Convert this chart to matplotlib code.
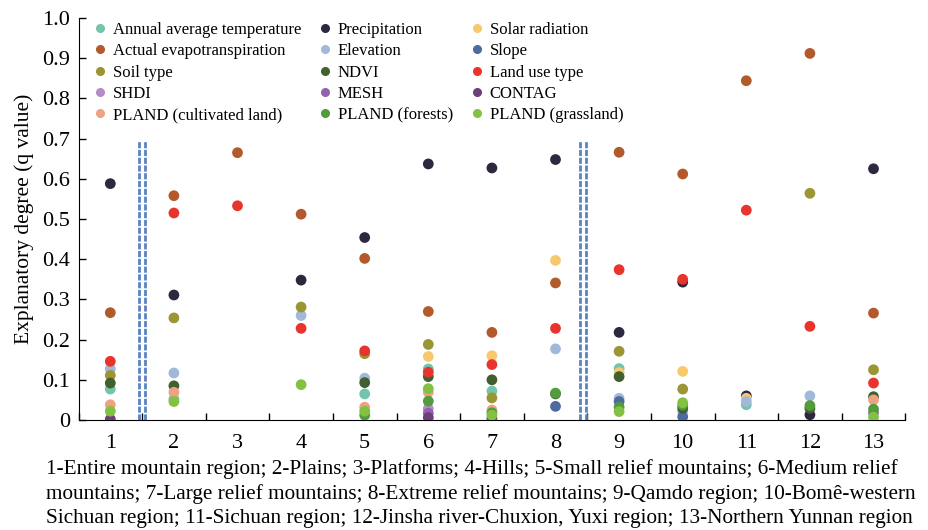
import numpy as np
import matplotlib
matplotlib.use("Agg")
import matplotlib.pyplot as plt
from matplotlib.lines import Line2D

plt.rcParams['font.family'] = ['Liberation Serif', 'DejaVu Serif']

nan = np.nan

regions = list(range(1, 14))
region_labels = [str(r) for r in regions]

factors = ["Annual average temperature", "Precipitation", "Solar radiation",
           "Actual evapotranspiration", "Elevation", "Slope",
           "Soil type", "NDVI", "Land use type",
           "SHDI", "MESH", "CONTAG",
           "PLAND (cultivated land)", "PLAND (forests)", "PLAND (grassland)"]

colors = ["#72c4aa", "#2f2740", "#f6c96e",
          "#b35a2c", "#a0b8d9", "#4c6b9f",
          "#9c9534", "#415f2f", "#e9342d",
          "#b48dc8", "#9462ad", "#6d3f7b",
          "#eea283", "#529c3d", "#83c143"]

# q values per factor, regions 1..13 (nan = not shown)
temp      = [0.077, 0.052, nan, nan, 0.065, 0.127, 0.072, nan, 0.128, nan, 0.038, nan, nan]
precip    = [0.588, 0.311, nan, 0.348, 0.454, 0.637, 0.627, 0.648, 0.218, 0.343, 0.060, 0.013, 0.625]
solar     = [nan, nan, nan, nan, nan, 0.158, 0.160, 0.397, 0.118, 0.121, 0.054, nan, nan]
aet       = [0.267, 0.558, 0.665, 0.512, 0.402, 0.270, 0.218, 0.341, 0.666, 0.612, 0.844, 0.912, 0.266]
elevation = [0.127, 0.117, nan, 0.260, 0.104, nan, nan, 0.177, 0.054, 0.021, 0.046, 0.060, nan]
slope     = [nan, nan, nan, nan, nan, nan, nan, 0.034, 0.046, 0.008, nan, nan, nan]
soil      = [0.111, 0.254, nan, 0.281, 0.165, 0.188, 0.055, nan, 0.171, 0.077, nan, 0.564, 0.125]
ndvi      = [0.092, 0.085, nan, nan, 0.093, 0.108, 0.100, 0.065, 0.108, 0.029, nan, 0.029, 0.058]
landuse   = [0.146, 0.515, 0.533, 0.228, 0.172, 0.119, 0.138, 0.228, 0.374, 0.350, 0.522, 0.233, 0.092]
shdi      = [nan, nan, nan, nan, nan, 0.028, nan, nan, nan, nan, nan, nan, nan]
mesh      = [nan, nan, nan, nan, nan, 0.017, nan, nan, nan, nan, nan, nan, 0.018]
contag    = [0.002, nan, nan, nan, nan, 0.006, 0.004, nan, nan, nan, nan, nan, nan]
pland_cult   = [0.038, 0.069, nan, nan, 0.032, 0.069, 0.025, nan, nan, nan, nan, nan, 0.050]
pland_forest = [nan, nan, nan, nan, 0.012, 0.047, 0.018, 0.067, 0.032, 0.037, nan, 0.036, 0.027]
pland_grass  = [0.022, 0.046, nan, 0.088, 0.022, 0.078, 0.012, nan, 0.021, 0.043, nan, nan, 0.007]

series = [temp, precip, solar, aet, elevation, slope, soil, ndvi, landuse,
          shdi, mesh, contag, pland_cult, pland_forest, pland_grass]

caption = ("1-Entire mountain region; 2-Plains; 3-Platforms; 4-Hills; 5-Small relief mountains; 6-Medium relief\n"
           "mountains; 7-Large relief mountains; 8-Extreme relief mountains; 9-Qamdo region; 10-Bomê-western\n"
           "Sichuan region; 11-Sichuan region; 12-Jinsha river-Chuxion, Yuxi region; 13-Northern Yunnan region")

fig = plt.figure(figsize=(9.29, 5.30), dpi=100)
ax = fig.add_axes([0.0845, 0.2075, 0.89, 0.7585])

for vals, c in zip(series, colors):
    ax.scatter(regions, vals, s=60, color=c, edgecolors='none', zorder=3)

# double dashed separators
for xv in [1.45, 1.55, 8.38, 8.48]:
    ax.plot([xv, xv], [0, 0.695], color="#5b83c2", lw=2, ls=(0, (2.2, 0.6)), zorder=2)

ax.set_xlim(0.5, 13.5)
ax.set_ylim(0, 1.0)
ax.set_xticks(regions)
ax.set_xticklabels(region_labels, fontsize=16)
ax.tick_params(axis='x', which='major', length=0, pad=10)
ax.set_xticks(np.arange(0.5, 14, 1), minor=True)
ax.tick_params(axis='x', which='minor', direction='in', length=5, width=1)
ax.set_yticks(np.arange(0, 1.01, 0.1))
ax.set_yticklabels(["0"] + ["%.1f" % v for v in np.arange(0.1, 1.01, 0.1)], fontsize=16)
ax.tick_params(axis='y', direction='in', length=5, width=1, pad=6)
ax.spines['top'].set_visible(False)
ax.spines['right'].set_visible(False)
ax.set_ylabel("Explanatory degree (q value)", fontsize=15.5, labelpad=6)

handles = [Line2D([], [], marker='o', ls='none', color=c, markersize=5.5) for c in colors]
order = [0, 3, 6, 9, 12, 1, 4, 7, 10, 13, 2, 5, 8, 11, 14]
ax.legend([handles[i] for i in order], [factors[i] for i in order], ncol=3,
          loc='upper left', bbox_to_anchor=(0.002, 1.015), frameon=False,
          fontsize=12, handletextpad=0.15, columnspacing=0.85, labelspacing=0.32,
          handlelength=1.2, borderaxespad=0.2)

fig.text(0.049, 0.003, caption, fontsize=15.3, ha='left', va='bottom', linespacing=1.36)

fig.savefig("out.png", dpi=100)
